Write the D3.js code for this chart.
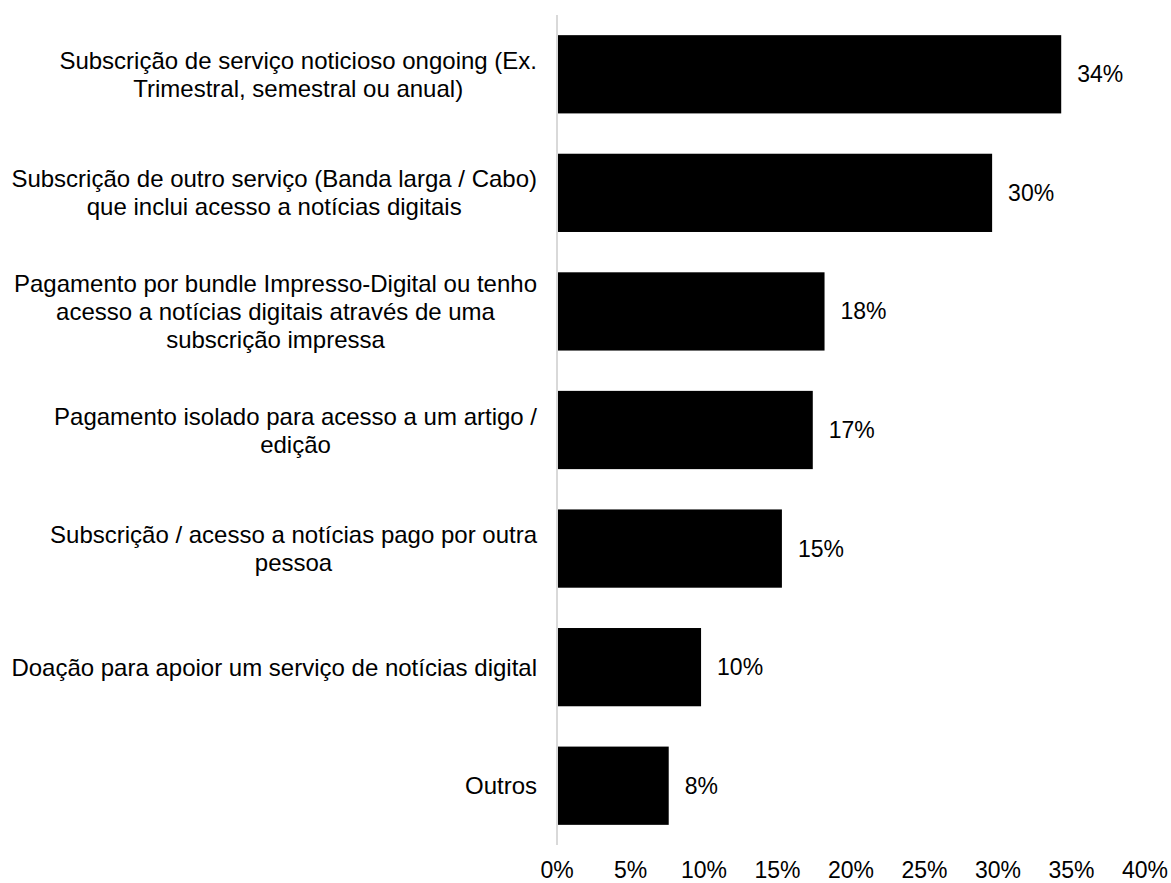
<!DOCTYPE html>
<html>
<head>
<meta charset="utf-8">
<script src="https://cdn.jsdelivr.net/npm/d3@7"></script>
<style>
  body { margin: 0; background: #fff; }
  text { font-family: Arial, "Liberation Sans", sans-serif; fill: #000; }
</style>
</head>
<body>
<div id="chart"></div>
<script>
const categories = [
  ["Subscrição de serviço noticioso ongoing (Ex.", "Trimestral, semestral ou anual)"],
  ["Subscrição de outro serviço (Banda larga / Cabo)", "que inclui acesso a notícias digitais"],
  ["Pagamento por bundle Impresso-Digital ou tenho", "acesso a notícias digitais através de uma", "subscrição impressa"],
  ["Pagamento isolado para acesso a um artigo /", "edição"],
  ["Subscrição / acesso a notícias pago por outra", "pessoa"],
  ["Doação para apoior um serviço de notícias digital"],
  ["Outros"]
]
const values = [34.3, 29.6, 18.2, 17.4, 15.3, 9.8, 7.6]
const labels = ["34%", "30%", "18%", "17%", "15%", "10%", "8%"]
const ticks = [0, 5, 10, 15, 20, 25, 30, 35, 40]

const width = 1171, height = 883
const xLeft = 557, xRight = 1145, yTop = 15, yBottom = 845

const svg = d3.select("#chart").append("svg").attr("width", width).attr("height", height)

const x = d3.scaleLinear().domain([0, 40]).range([xLeft, xRight])
const y = d3.scaleBand().domain(d3.range(categories.length)).range([yTop, yBottom]).paddingInner(0.34).paddingOuter(0.17)

// bars
svg.append("g").selectAll("rect").data(values).join("rect")
  .attr("x", x(0)).attr("y", (d, i) => y(i))
  .attr("width", d => x(d) - x(0)).attr("height", y.bandwidth())
  .attr("fill", "#000")

// vertical axis line
svg.append("line").attr("x1", x(0)).attr("x2", x(0)).attr("y1", yTop).attr("y2", yBottom)
  .attr("stroke", "#d9d9d9").attr("stroke-width", 2)

// value labels
svg.append("g").selectAll("text").data(values).join("text")
  .attr("x", d => x(d) + 16).attr("y", (d, i) => y(i) + y.bandwidth() / 2)
  .attr("dominant-baseline", "central")
  .style("font-size", "23px")
  .text((d, i) => labels[i])

// x tick labels
svg.append("g").selectAll("text").data(ticks).join("text")
  .attr("x", d => x(d)).attr("y", 878)
  .attr("text-anchor", "middle")
  .style("font-size", "23px")
  .text(d => d + "%")

// category labels, lines centered on each other, block right-aligned
const lineH = 28, rightEdge = 537
categories.forEach((lines, i) => {
  const cy = y(i) + y.bandwidth() / 2
  const g = svg.append("g")
  const texts = lines.map((s, j) => g.append("text")
    .attr("y", cy + (j - (lines.length - 1) / 2) * lineH)
    .attr("dominant-baseline", "central")
    .attr("text-anchor", "middle")
    .style("font-size", "24px")
    .text(s))
  const maxW = d3.max(texts, t => t.node().getComputedTextLength())
  texts.forEach(t => t.attr("x", rightEdge - maxW / 2))
})
</script>
</body>
</html>
